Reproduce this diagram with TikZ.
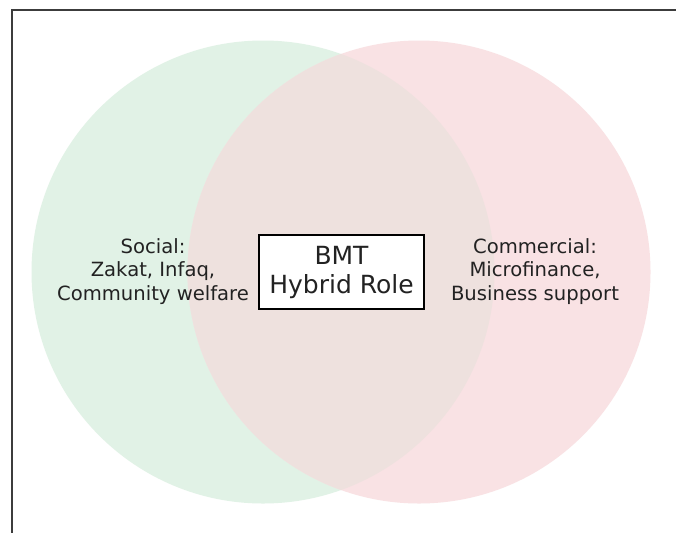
\documentclass[tikz,border=0pt]{standalone}
\usepackage{fontspec}
\setmainfont{DejaVu Sans}
\definecolor{gfill}{RGB}{225,242,230}
\definecolor{rfill}{RGB}{249,226,228}
\definecolor{ofill}{RGB}{238,225,222}
\definecolor{framecol}{RGB}{60,60,60}
\definecolor{txtcol}{RGB}{34,34,34}
\tikzset{
  setcircle/.style={circle, minimum size=463pt, inner sep=0pt, draw=none},
  sidelabel/.style={align=center, text=txtcol, inner sep=0pt, font=\fontsize{19.6}{23.4}\selectfont},
  centerbox/.style={draw=black, line width=1.6pt, fill=white, align=center, text=txtcol,
     minimum width=165pt, minimum height=74pt, inner sep=0pt, font=\fontsize{25}{29}\selectfont},
  frameline/.style={draw=framecol, line width=1.6pt}
}
\begin{document}
\begin{tikzpicture}[x=1pt,y=-1pt]
\useasboundingbox (0,0) rectangle (676,533);
\fill[white] (0,0) rectangle (676,533);
\node[setcircle, fill=gfill] (social) at (263,272) {};
\node[setcircle, fill=rfill] (commercial) at (419,272) {};
\begin{scope}
  \clip (263,272) circle (231.5pt);
  \fill[ofill] (419,272) circle (231.5pt);
\end{scope}
\draw[frameline] (676,9.8) -- (11.7,9.8) -- (11.7,533);
\node[sidelabel] (soclabel) at (153,271.5) {Social:\\Zakat, Infaq,\\Community welfare};
\node[sidelabel] (comlabel) at (535,271.5) {Commercial:\\Microfinance,\\Business support};
\node[centerbox] (bmt) at (341.5,272) {BMT\\Hybrid Role};
\end{tikzpicture}
\end{document}
